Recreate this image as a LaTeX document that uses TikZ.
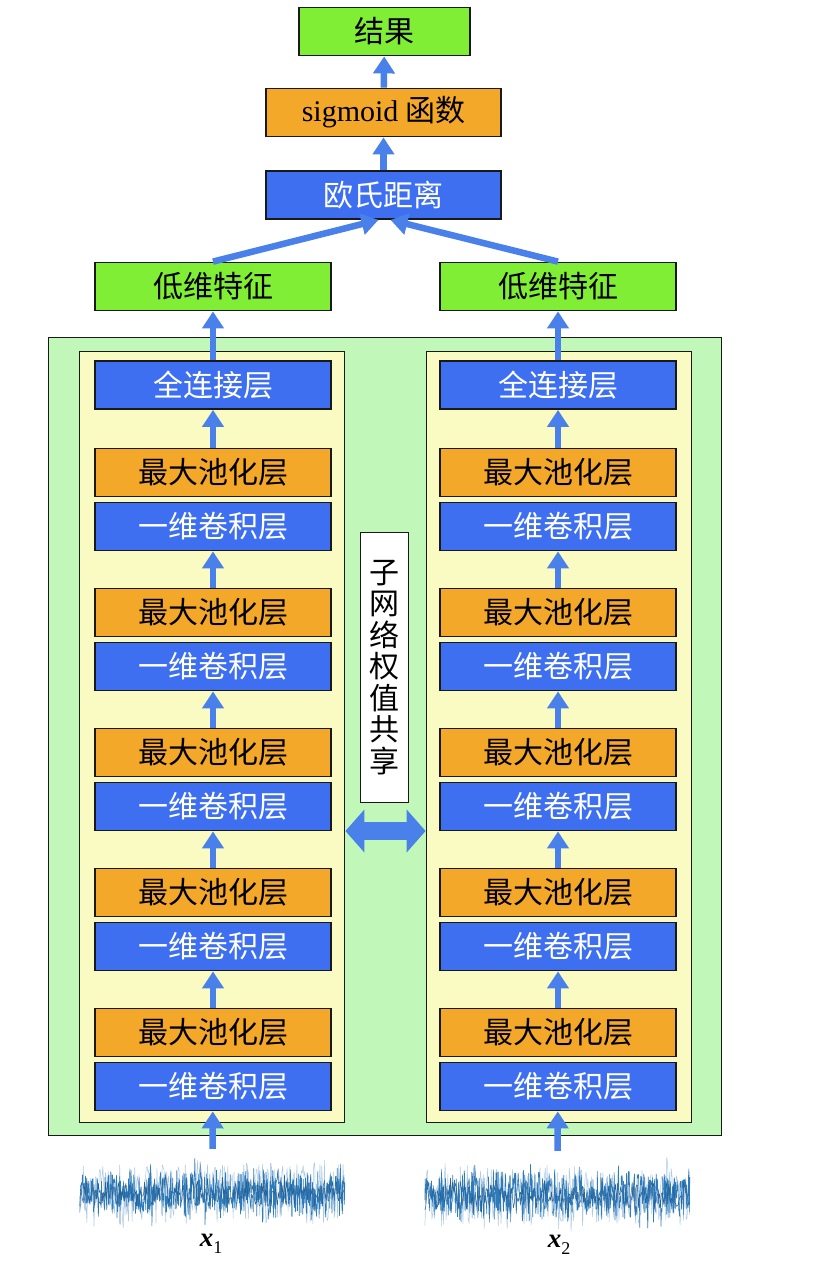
\documentclass[tikz,border=0pt]{standalone}
\usepackage{fontspec}
\setmainfont{Liberation Serif}
\newfontfamily\cjk{Noto Sans CJK SC}
\usepackage{xcolor}
\usepackage{tikz}
\usetikzlibrary{arrows.meta,positioning,calc}
\definecolor{layerBlue}{HTML}{3D6FF0}
\definecolor{poolOrange}{HTML}{F4A82A}
\definecolor{featGreen}{HTML}{80EE34}
\definecolor{netGreen}{HTML}{C2F7BA}
\definecolor{panelYellow}{HTML}{F9FBC2}
\definecolor{arrowBlue}{HTML}{4A80EA}
\definecolor{waveBlue}{HTML}{2F7BBA}

\begin{document}
\begin{tikzpicture}[x=1pt, y=-1pt,
  blk/.style={draw=black!90, line width=1.8pt, inner sep=0pt, minimum height=48pt, minimum width=236pt, font=\cjk\fontsize{30}{30}\selectfont},
  conv/.style={blk, fill=layerBlue, text=white},
  pool/.style={blk, fill=poolOrange},
  feat/.style={blk, fill=featGreen},
  panel/.style={draw=black!90, line width=1.8pt, fill=panelYellow, minimum width=265pt, minimum height=771pt, inner sep=0pt},
  netbox/.style={draw=black!90, line width=1.8pt, fill=netGreen, minimum width=673pt, minimum height=798pt, inner sep=0pt},
  sharebox/.style={draw=black!90, line width=1.8pt, fill=white, minimum width=48pt, minimum height=270pt, align=center, inner sep=0pt, font=\cjk\fontsize{30}{31.5}\selectfont},
  sig/.style={inner sep=0pt, minimum width=265pt, minimum height=88pt},
  wave/.style={draw=waveBlue, line width=0.6pt, line join=round},
  xlab/.style={inner sep=0pt, font=\fontsize{27}{27}\selectfont},
  arr/.style={-{Triangle[width=21pt,length=17pt]}, line width=6.5pt, draw=arrowBlue},
  dblarr/.style={{Triangle[width=42pt,length=19pt]}-{Triangle[width=42pt,length=19pt]}, line width=18pt, draw=arrowBlue}]
\useasboundingbox (0,0) rectangle (816,1288);
% top of the network
\node[blk, fill=featGreen, minimum width=171pt] (result) at (384.5,31.5) {结果};
\node[pool, minimum width=235pt] (sigm) at (383.5,112.5) {{\rmfamily sigmoid} 函数};
\node[conv, minimum width=235pt] (dist) at (383.5,195) {欧氏距离};
\node[feat] (featL) at (213,286.5) {低维特征};
\node[feat] (featR) at (558,286.5) {低维特征};
\draw[arr] (sigm) -- (result);
\draw[arr] (dist) -- (sigm);
\draw[arr] (featL.north) -- ([xshift=-5pt]dist.south);
\draw[arr] (featR.north) -- ([xshift=7pt]dist.south);
% twin sub-networks
\node[netbox] (net) at (385,736.5) {};
\node[panel] (panelL) at (212,737) {};
\node[panel] (panelR) at (559,737) {};
\foreach \s/\cx in {L/213,R/558}{
  \node[conv] (fc\s) at (\cx,385) {全连接层};
  \foreach \i in {1,...,5}{
    \node[pool] (pool\s\i) at (\cx,{472.5+140*(\i-1)}) {最大池化层};
    \node[conv] (conv\s\i) at (\cx,{526.5+140*(\i-1)}) {一维卷积层};
  }
  \draw[arr] (fc\s) -- (feat\s);
  \draw[arr] (pool\s1) -- (fc\s);
  \foreach \a/\b in {2/1,3/2,4/3,5/4}\draw[arr] (pool\s\a) -- (conv\s\b);
}
\node[sharebox] (share) at (384.5,667.5) {子\\网\\络\\权\\值\\共\\享};
\coordinate (dblY) at (0,831);
\draw[dblarr] (panelL.east |- dblY) -- (panelR.west |- dblY);
% input signals
\node[sig] (sigL) at (212.5,1193) {};
\node[sig] (sigR) at (557.5,1195) {};
\pgfmathsetseed{11}
\foreach \n in {sigL,sigR}{
  \begin{scope}[shift={(\n.west)}]
    \draw[wave, draw=waveBlue!40, line width=0.5pt] plot[domain=0:265, samples=300] (\x,{30*rand+20*rand*rand*rand});
    \draw[wave] plot[domain=0:265, samples=600] (\x,{22*rand+26*rand*rand*rand});
    \draw[wave, draw=waveBlue!80!black, line width=0.5pt] plot[domain=0:265, samples=300] (\x,{12*rand+10*rand*rand});
  \end{scope}
}
\draw[arr] (sigL.north) -- (convL5);
\draw[arr] (sigR.north) -- (convR5);
\node[xlab] (labL) at (211,1244) {\textbf{\textit{x}}\raisebox{-7pt}{\fontsize{18}{18}\selectfont 1}};
\node[xlab] (labR) at (559,1245) {\textbf{\textit{x}}\raisebox{-7pt}{\fontsize{18}{18}\selectfont 2}};
\end{tikzpicture}
\end{document}
